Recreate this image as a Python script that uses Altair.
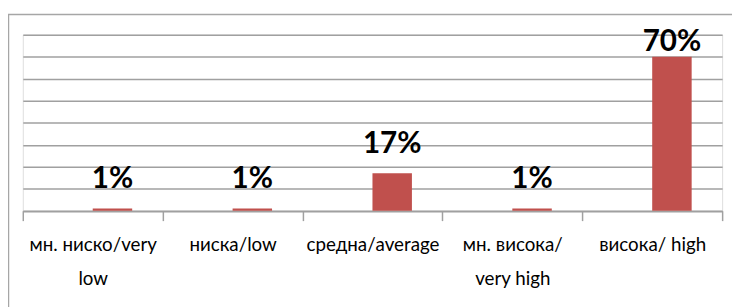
import altair as alt
import pandas as pd

categories = ["мн. ниско/very\nlow", "ниска/low", "средна/average", "мн. висока/\nvery high", "висока/ high"]
values = [1, 1, 17, 1, 70]
labels = ["1%", "1%", "17%", "1%", "70%"]

df = pd.DataFrame({"cat": categories, "val": values, "lab": labels, "slot": ["right"] * len(values)})

FONT = "Lato, Open Sans, sans-serif"

x = alt.X("cat:N", sort=categories,
          scale=alt.Scale(domain=categories, paddingInner=0, paddingOuter=0),
          axis=alt.Axis(title=None, labelAngle=0, labelExpr="split(datum.label, '\\n')",
                        labelFont=FONT, labelFontSize=19, labelColor="#000000",
                        labelLineHeight=35, labelPadding=15,
                        domainColor="#A0A0A0", domainWidth=1.5,
                        tickColor="#A0A0A0", tickWidth=1.5, tickSize=10, tickBand="extent",
                        grid=False))
xo = alt.XOffset("slot:N", scale=alt.Scale(domain=["left", "right"], paddingInner=0, paddingOuter=0.7725))
y = alt.Y("val:Q", scale=alt.Scale(domain=[0, 80], nice=False),
          axis=alt.Axis(title=None, labels=False, ticks=False, domain=False, grid=True,
                        values=list(range(0, 90, 10)), gridColor="#A0A0A0", gridWidth=1.5))

base = alt.Chart(df)
bars = base.mark_bar(color="#C0504D").encode(x=x, xOffset=xo, y=y)
txt_small = base.transform_filter("datum.val < 50").mark_text(
    baseline="bottom", dy=-15, font=FONT, fontSize=30, fontWeight="bold", color="#000000"
).encode(x=x, xOffset=xo, y=y, text="lab:N")
txt_big = base.transform_filter("datum.val >= 50").mark_text(
    baseline="bottom", dy=0, font=FONT, fontSize=30, fontWeight="bold", color="#000000"
).encode(x=x, xOffset=xo, y=y, text="lab:N")

frame = alt.Chart(pd.DataFrame({"a": [0]})).mark_rect(
    filled=False, stroke="#A6A6A6", strokeWidth=1.5
).encode(x=alt.value(-14.5), x2=alt.value(760), y=alt.value(-20.5), y2=alt.value(400))

chart = alt.layer(bars, txt_small, txt_big, frame).properties(
    width=709, height=178.5,
    autosize=alt.AutoSizeParams(type="none"),
    padding={"left": 15, "top": 25, "right": 10, "bottom": 95},
).configure_view(stroke=None).configure(background="white")

chart.save("out.html", embed_options={"renderer": "svg", "actions": False})
